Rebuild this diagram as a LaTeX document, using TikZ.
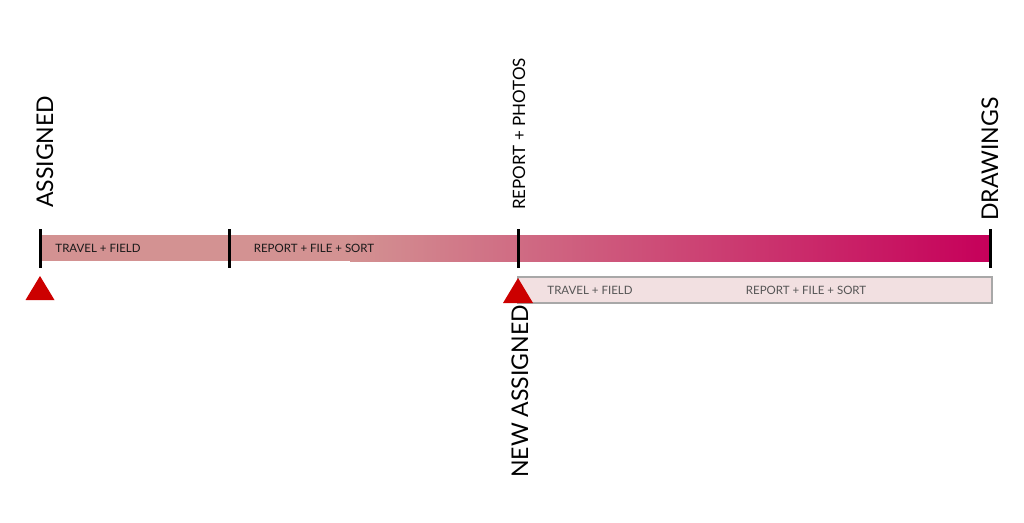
\documentclass[tikz,border=0pt]{standalone}
\usepackage{fontspec}
\setmainfont{Lato}
\definecolor{barL}{RGB}{211,146,146}
\definecolor{barR}{RGB}{198,0,90}
\definecolor{lowfill}{RGB}{242,224,225}
\definecolor{lowdraw}{RGB}{168,168,168}
\definecolor{lowtext}{RGB}{85,85,85}
\definecolor{mark}{RGB}{204,0,0}
\tikzset{
  tick/.style={line width=3pt, black},
  milestone/.style={fill=mark, draw=none},
  bigLabel/.style={rotate=90, anchor=base west, inner sep=0pt, font=\fontsize{23}{23}\selectfont},
  midLabel/.style={rotate=90, anchor=base west, inner sep=0pt, font=\fontsize{17}{17}\selectfont},
  barText/.style={inner sep=0pt, font=\fontsize{11.5}{11.5}\selectfont, text=black!90},
  lowText/.style={inner sep=0pt, font=\fontsize{11.5}{11.5}\selectfont, text=lowtext}
}
\begin{document}
\begin{tikzpicture}[x=1pt,y=-1pt]
\useasboundingbox (0,0) rectangle (1024,522);
% main bar
\fill[barL] (40,235) rectangle (351,261);
\shade[left color=barL, right color=barR, shading angle=90] (350,235) rectangle (990,261);
% lower bar
\draw[fill=lowfill, draw=lowdraw, line width=1.5pt] (518,277) rectangle (992,303);
% ticks
\coordinate (t0a) at (40,229); \coordinate (t0b) at (40,268);
\coordinate (t1a) at (229,229); \coordinate (t1b) at (229,268);
\coordinate (t2a) at (518,229); \coordinate (t2b) at (518,268);
\coordinate (t3a) at (990,229); \coordinate (t3b) at (990,268);
\draw[tick] (t0a) -- (t0b);
\draw[tick] (t1a) -- (t1b);
\draw[tick] (t2a) -- (t2b);
\draw[tick] (t3a) -- (t3b);
% milestones
\fill[milestone] (40,276) -- (54.5,300) -- (25.5,300) -- cycle;
\fill[milestone] (518,278) -- (533,303) -- (503,303) -- cycle;
% bar texts
\node[barText] (tf1) at (98,248) {TRAVEL + FIELD};
\node[barText] (rfs1) at (314,248) {REPORT + FILE + SORT};
\node[lowText] (tf2) at (590,290) {TRAVEL + FIELD};
\node[lowText] (rfs2) at (806,290) {REPORT + FILE + SORT};
% vertical labels
\node[bigLabel] (assigned) at (53,208) {ASSIGNED};
\node[midLabel] (photos) at (525,210) {REPORT + PHOTOS};
\node[bigLabel] (drawings) at (998,221) {DRAWINGS};
\node[bigLabel] (newassigned) at (528,478) {NEW ASSIGNED};
\end{tikzpicture}
\end{document}
